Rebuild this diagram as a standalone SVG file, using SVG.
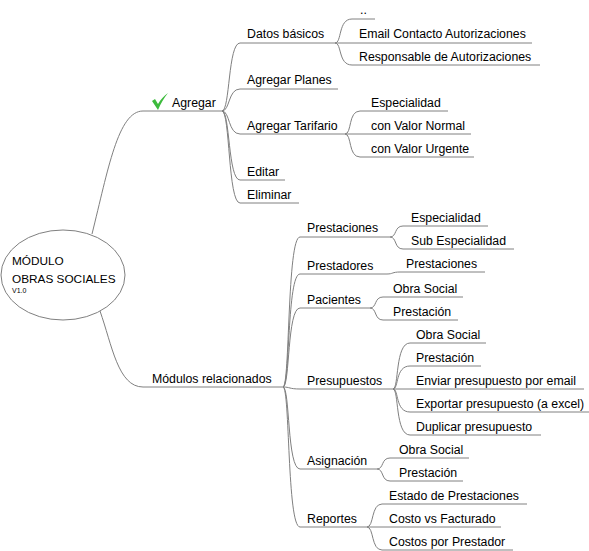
<svg xmlns="http://www.w3.org/2000/svg" width="589" height="551" viewBox="0 0 589 551">
<style>
text{font-family:"Liberation Sans",Arial,sans-serif;font-size:12.3px;fill:#000}
.ul,.c{stroke:#808080;stroke-width:1;fill:none}
.root{fill:#fff;stroke:#808080;stroke-width:1}
</style>
<rect width="589" height="551" fill="#fff"/>
<g id="connectors" class="c">
<path d="M92,234 C108,170 118,111 143,111"/>
<path d="M100,311 C112,345 118,387 143,387"/>
<path d="M222,111 C230,111 228,43 240,43"/>
<path d="M222,111 C230,111 228,89 240,89"/>
<path d="M222,111 C230,111 228,134 240,134"/>
<path d="M222,111 C230,111 228,180 240,180"/>
<path d="M222,111 C230,111 228,203 240,203"/>
<path d="M335,43 C342,43 338,19 352,19"/>
<path d="M335,43 H352"/>
<path d="M335,43 C342,43 338,65 352,65"/>
<path d="M345,134 C352,134 348,111 360,111"/>
<path d="M345,134 H360"/>
<path d="M345,134 C352,134 348,157 360,157"/>
<path d="M283,387 C290,387 287,237 300,237"/>
<path d="M283,387 C290,387 287,274 300,274"/>
<path d="M283,387 C290,387 287,308 300,308"/>
<path d="M283,387 C290,387 289,389 300,389"/>
<path d="M283,387 C290,387 287,469 300,469"/>
<path d="M283,387 C290,387 287,527 300,527"/>
<path d="M390,237 C397,237 394,226 403,226"/>
<path d="M390,237 C397,237 394,249 403,249"/>
<path d="M387,274 C393,274 392,272 400,272"/>
<path d="M370,308 C377,308 374,297 383,297"/>
<path d="M370,308 C377,308 374,320 383,320"/>
<path d="M393,389 C399,389 395,343 410,343"/>
<path d="M393,389 C399,389 395,366 410,366"/>
<path d="M393,389 H410"/>
<path d="M393,389 C399,389 395,412 410,412"/>
<path d="M393,389 C399,389 395,435 410,435"/>
<path d="M377,469 C384,469 381,458 390,458"/>
<path d="M377,469 C384,469 381,481 390,481"/>
<path d="M367,527 C374,527 371,504 382,504"/>
<path d="M367,527 H382"/>
<path d="M367,527 C374,527 371,550 382,550"/>
</g>
<g id="root">
<ellipse class="root" cx="63" cy="275" rx="62" ry="45"/>
<text x="12" y="265" style="font-size:11.8px">MÓDULO</text>
<text x="12" y="283" style="font-size:11.8px">OBRAS SOCIALES</text>
<text x="12" y="293" style="font-size:7px">V1.0</text>
</g>
<g id="agregar">
<line class="ul" x1="143" y1="111" x2="222" y2="111"/>
<path d="M152,101 L155,99 L158,104 C161,99 164,96 168,93 C164,98 161,103 158,110 Z" fill="#3dbb3d"/>
<text x="172" y="107">Agregar</text>
</g>
<g id="datos-basicos"><line class="ul" x1="240" y1="43" x2="335" y2="43"/><text x="247" y="38">Datos básicos</text></g>
<g id="agregar-planes"><line class="ul" x1="240" y1="89" x2="338" y2="89"/><text x="247" y="84">Agregar Planes</text></g>
<g id="agregar-tarifario"><line class="ul" x1="240" y1="134" x2="345" y2="134"/><text x="247" y="130">Agregar Tarifario</text></g>
<g id="editar"><line class="ul" x1="240" y1="180" x2="285" y2="180"/><text x="247" y="176">Editar</text></g>
<g id="eliminar"><line class="ul" x1="240" y1="203" x2="299" y2="203"/><text x="247" y="199">Eliminar</text></g>
<g id="dots"><line class="ul" x1="352" y1="19" x2="375" y2="19"/><text x="360" y="14">..</text></g>
<g id="email"><line class="ul" x1="352" y1="43" x2="532" y2="43"/><text x="359" y="38">Email Contacto Autorizaciones</text></g>
<g id="responsable"><line class="ul" x1="352" y1="65" x2="540" y2="65"/><text x="359" y="61">Responsable de Autorizaciones</text></g>
<g id="tar-especialidad"><line class="ul" x1="360" y1="111" x2="448" y2="111"/><text x="371" y="107">Especialidad</text></g>
<g id="valor-normal"><line class="ul" x1="360" y1="134" x2="471" y2="134"/><text x="371" y="130">con Valor Normal</text></g>
<g id="valor-urgente"><line class="ul" x1="360" y1="157" x2="474" y2="157"/><text x="371" y="153">con Valor Urgente</text></g>
<g id="modulos"><line class="ul" x1="143" y1="387" x2="283" y2="387"/><text x="152" y="383">Módulos relacionados</text></g>
<g id="prestaciones"><line class="ul" x1="300" y1="237" x2="390" y2="237"/><text x="307" y="232">Prestaciones</text></g>
<g id="prestadores"><line class="ul" x1="300" y1="274" x2="387" y2="274"/><text x="307" y="270">Prestadores</text></g>
<g id="pacientes"><line class="ul" x1="300" y1="308" x2="370" y2="308"/><text x="307" y="304">Pacientes</text></g>
<g id="presupuestos"><line class="ul" x1="300" y1="389" x2="393" y2="389"/><text x="307" y="385">Presupuestos</text></g>
<g id="asignacion"><line class="ul" x1="300" y1="469" x2="377" y2="469"/><text x="307" y="465">Asignación</text></g>
<g id="reportes"><line class="ul" x1="300" y1="527" x2="367" y2="527"/><text x="307" y="523">Reportes</text></g>
<g id="pr-especialidad"><line class="ul" x1="403" y1="226" x2="488" y2="226"/><text x="411" y="222">Especialidad</text></g>
<g id="pr-sub-especialidad"><line class="ul" x1="403" y1="249" x2="514" y2="249"/><text x="411" y="245">Sub Especialidad</text></g>
<g id="pd-prestaciones"><line class="ul" x1="400" y1="272" x2="485" y2="272"/><text x="406" y="268">Prestaciones</text></g>
<g id="pa-obra-social"><line class="ul" x1="383" y1="297" x2="463" y2="297"/><text x="393" y="293">Obra Social</text></g>
<g id="pa-prestacion"><line class="ul" x1="383" y1="320" x2="458" y2="320"/><text x="393" y="316">Prestación</text></g>
<g id="pu-obra-social"><line class="ul" x1="410" y1="343" x2="486" y2="343"/><text x="416" y="339">Obra Social</text></g>
<g id="pu-prestacion"><line class="ul" x1="410" y1="366" x2="481" y2="366"/><text x="416" y="362">Prestación</text></g>
<g id="pu-enviar"><line class="ul" x1="410" y1="389" x2="584" y2="389"/><text x="416" y="385">Enviar presupuesto por email</text></g>
<g id="pu-exportar"><line class="ul" x1="410" y1="412" x2="589" y2="412"/><text x="416" y="408">Exportar presupuesto (a excel)</text></g>
<g id="pu-duplicar"><line class="ul" x1="410" y1="435" x2="541" y2="435"/><text x="416" y="431">Duplicar presupuesto</text></g>
<g id="as-obra-social"><line class="ul" x1="390" y1="458" x2="469" y2="458"/><text x="399" y="454">Obra Social</text></g>
<g id="as-prestacion"><line class="ul" x1="390" y1="481" x2="463" y2="481"/><text x="399" y="477">Prestación</text></g>
<g id="re-estado"><line class="ul" x1="382" y1="504" x2="527" y2="504"/><text x="389" y="500">Estado de Prestaciones</text></g>
<g id="re-costo-facturado"><line class="ul" x1="382" y1="527" x2="501" y2="527"/><text x="389" y="523">Costo vs Facturado</text></g>
<g id="re-costos-prestador"><line class="ul" x1="382" y1="550" x2="513" y2="550"/><text x="389" y="546">Costos por Prestador</text></g>
</svg>
